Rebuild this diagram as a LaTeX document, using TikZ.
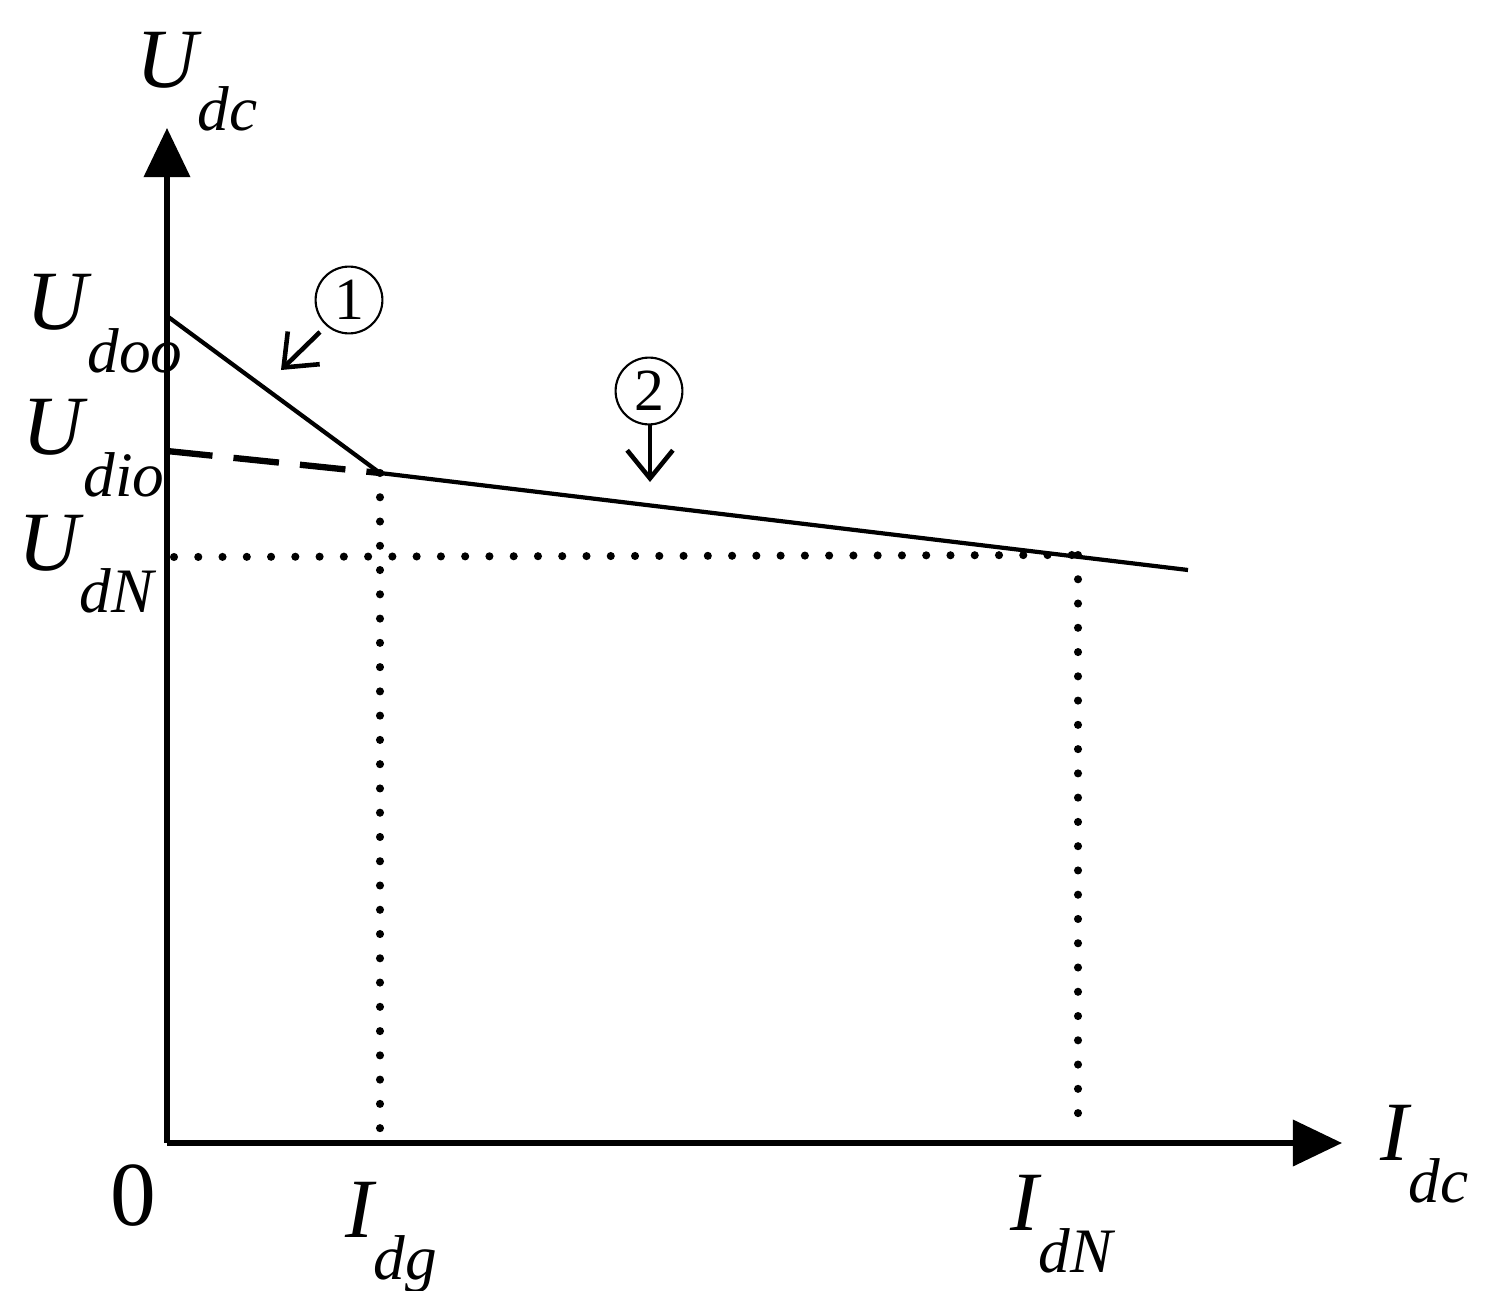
\documentclass[tikz,border=0pt]{standalone}
\usepackage{fontspec}
\setmainfont{Liberation Serif}
\usetikzlibrary{arrows.meta}
\newcommand{\lab}[2]{{\fontsize{24}{24}\selectfont\itshape #1\raisebox{-1.1ex}{\fontsize{18}{18}\selectfont #2}}}
\begin{document}
\begin{tikzpicture}[x=0.01cm,y=-0.01cm,
  axis/.style={line width=1.5pt,-{Triangle[length=14pt,width=13pt]}},
  curve/.style={line width=1.2pt},
  dotl/.style={line width=2.3pt,dash pattern=on 0pt off 6.9pt,line cap=round},
  lbl/.style={anchor=base west,inner sep=0pt},
  circ/.style={circle,draw,line width=0.6pt,inner sep=0pt,minimum size=19pt,font=\fontsize{17}{17}\selectfont},
  marr/.style={line width=1.3pt,-{Straight Barb[length=8pt,width=13pt]}}]
\useasboundingbox (0,0) rectangle (1506,1291);
\coordinate (O) at (167,1143);
\coordinate (Y) at (167,128);
\coordinate (X) at (1342,1143);
\coordinate (A) at (167,316);
\coordinate (B) at (380,473);
\coordinate (C) at (1188,570);
\coordinate (D) at (167,451);
\coordinate (E) at (1078,555);
\coordinate (Bx) at (380,1133);
\coordinate (Ex) at (1078,1133);
\coordinate (Dn) at (174,557);
\draw[axis] (O) -- (Y);
\draw[axis] (O) -- (X);
\draw[curve] (A) -- (B) -- (C);
\draw[line width=1.8pt,dash pattern=on 13pt off 6pt] (D) -- (B);
\draw[dotl] (B) -- (Bx);
\draw[dotl] (E) -- (Ex);
\draw[dotl] (Dn) -- (E);
\node[lbl] (ldc) at (136,88) {\lab{U}{dc}};
\node[lbl] (ldoo) at (26,330) {\lab{U}{doo}};
\node[lbl] (ldio) at (22,454) {\lab{U}{dio}};
\node[lbl] (ldn) at (18,570) {\lab{U}{dN}};
\node[lbl] (lidc) at (1380,1160) {\lab{I}{dc}};
\node[lbl] (ldg) at (345,1237) {\lab{I}{dg}};
\node[lbl] (lidn) at (1010,1230) {\lab{I}{dN}};
\node[lbl] (zero) at (110,1225) {\fontsize{26}{26}\selectfont 0};
\node[circ] (c1) at (349,300) {1};
\node[circ] (c2) at (649,391) {2};
\coordinate (a1s) at (320,332);
\coordinate (a1e) at (281,370);
\coordinate (a2s) at (650,425);
\coordinate (a2e) at (650,482);
\draw[marr] (a1s) -- (a1e);
\draw[marr] (a2s) -- (a2e);
\end{tikzpicture}
\end{document}
